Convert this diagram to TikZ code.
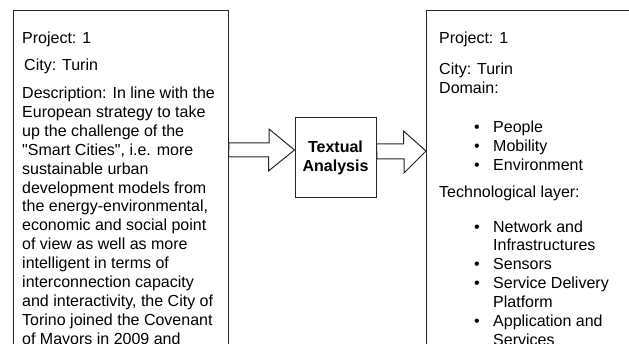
\documentclass[tikz,border=0pt]{standalone}
\usepackage{fontspec}
\setmainfont{Liberation Sans}
\newcommand{\bulitem}[1]{\hspace*{35pt}\makebox[19pt][l]{\textbullet}#1}
\newcommand{\bulcont}[1]{\hspace*{54pt}#1}
\begin{document}
\begin{tikzpicture}[x=1pt,y=1pt,
	panel/.style={draw=black!85,line width=1pt,anchor=north west,inner sep=0pt},
	body/.style={anchor=north west,align=left,inner sep=0pt,font=\fontsize{16}{18.9}\selectfont},
	fatarrow/.style={draw=black!85,line width=1pt,fill=white,line join=miter}]
	\useasboundingbox (0,0) rectangle (629,-344);
	\node[panel,minimum width=215,minimum height=400] (src) at (13,-10) {};
	\node[panel,anchor=center,minimum width=81,minimum height=80,align=center,font=\bfseries\fontsize{16}{19}\selectfont] (txt) at (335.5,-158) {Textual\\Analysis};
	\node[panel,minimum width=240,minimum height=400] (out) at (426,-10) {};
	\node[body] (srctext) at (22,-32) {Project: 1\\[8pt]
		\hspace*{2pt}City: Turin\\[9pt]
		Description: In line with the\\
		European strategy to take\\
		up the challenge of the\\
		\textquotedbl Smart Cities\textquotedbl, i.e. more\\
		sustainable urban\\
		development models from\\
		the energy-environmental,\\
		economic and social point\\
		of view as well as more\\
		intelligent in terms of\\
		interconnection capacity\\
		and interactivity, the City of\\
		Torino joined the Covenant\\
		of Mayors in 2009 and};
	\node[body] (outtext) at (439,-32) {Project: 1\\[12pt]
		City: Turin\\
		Domain:\\[20pt]
		\bulitem{People}\\
		\bulitem{Mobility}\\
		\bulitem{Environment}\\[8pt]
		Technological layer:\\[16pt]
		\bulitem{Network and}\\
		\bulcont{Infrastructures}\\
		\bulitem{Sensors}\\
		\bulitem{Service Delivery}\\
		\bulcont{Platform}\\
		\bulitem{Application and}\\
		\bulcont{Services}};
	\coordinate (tipa) at ([yshift=8]txt.west);
	\coordinate (taila) at (src.east |- tipa);
	\draw[fatarrow] ([yshift=7]taila) -- ++(40,0) -- ++(0,14) -- (tipa) -- ++(-26,-21) -- ++(0,14) -- ++(-40,0) -- cycle;
	\coordinate (tipb) at ([yshift=7]out.west |- txt.west);
	\coordinate (tailb) at (txt.east |- tipb);
	\draw[fatarrow] ([yshift=7]tailb) -- ++(27,0) -- ++(0,13) -- (tipb) -- ++(-22,-22) -- ++(0,14) -- ++(-27,0) -- cycle;
\end{tikzpicture}
\end{document}
